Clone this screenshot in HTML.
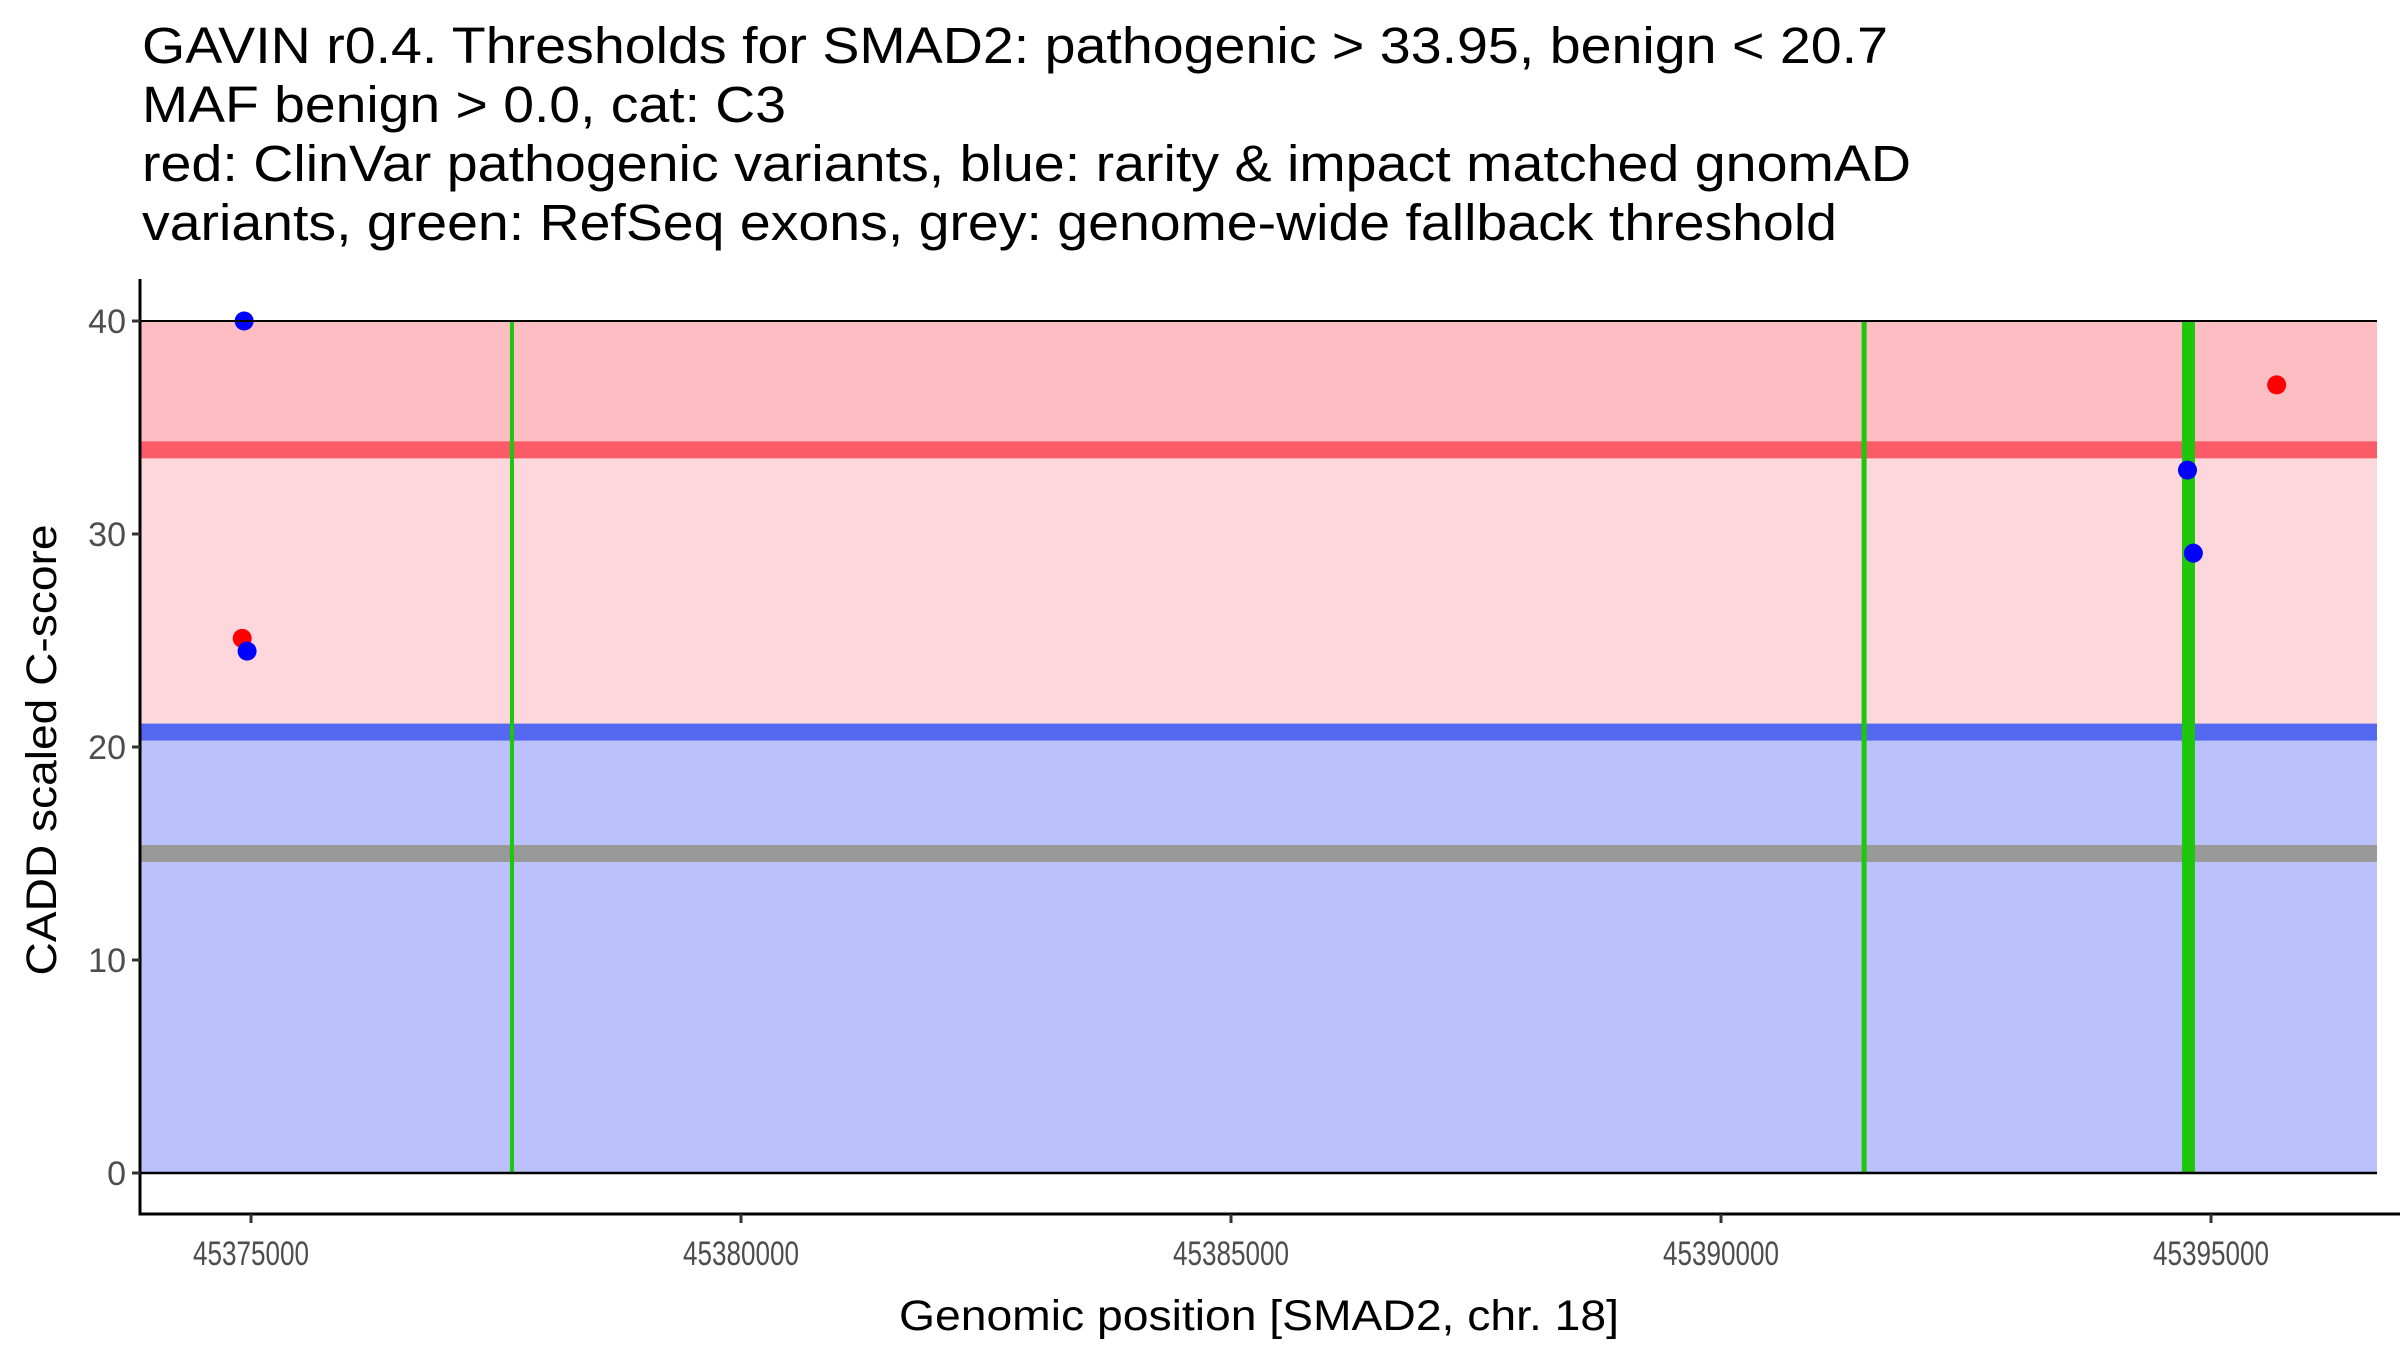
<!DOCTYPE html>
<html><head><meta charset="utf-8"><style>
html,body{margin:0;padding:0;background:#fff;}
svg{display:block;font-family:"Liberation Sans",Arial,sans-serif;}
</style></head><body>
<svg id="chart" width="2400" height="1350" viewBox="0 0 2400 1350" xmlns="http://www.w3.org/2000/svg">
<g font-size="51" fill="#000">
<text x="142" y="63" textLength="1746" lengthAdjust="spacingAndGlyphs">GAVIN r0.4. Thresholds for SMAD2: pathogenic &gt; 33.95, benign &lt; 20.7</text>
<text x="142" y="122" textLength="644" lengthAdjust="spacingAndGlyphs">MAF benign &gt; 0.0, cat: C3</text>
<text x="142" y="181" textLength="1769" lengthAdjust="spacingAndGlyphs">red: ClinVar pathogenic variants, blue: rarity &amp; impact matched gnomAD</text>
<text x="142" y="240" textLength="1695" lengthAdjust="spacingAndGlyphs">variants, green: RefSeq exons, grey: genome-wide fallback threshold</text>
</g>
<g id="bands"></g>
<g id="exons"></g>
<g id="points"></g>
<g id="axes"></g>
<text x="1259" y="1330" font-size="43" text-anchor="middle" textLength="720" lengthAdjust="spacingAndGlyphs">Genomic position [SMAD2, chr. 18]</text>
<text transform="translate(56,750) rotate(-90)" font-size="43" text-anchor="middle" textLength="451" lengthAdjust="spacingAndGlyphs">CADD scaled C-score</text>
</svg>
<script>
const pathogenicThreshold = 33.95;
const benignThreshold = 20.7;
const fallbackThreshold = 15;
const exonPositions = [45377663, 45391460, 45394770];
const exonWidths = [4, 5, 13];
const pathogenicX = [45374910, 45395670];
const pathogenicY = [25.1, 37.0];
const benignX = [45374930, 45374960, 45394760, 45394820];
const benignY = [40.0, 24.5, 33.0, 29.1];
const xTicks = [45375000, 45380000, 45385000, 45390000, 45395000];
const yTicks = [0, 10, 20, 30, 40];

const NS = "http://www.w3.org/2000/svg";
const L = 140, R = 2377, AX = 1214, TOP = 279;
function sx(v){ return 251 + (v - 45375000) * 0.098; }
function sy(v){ return 1173 - v * 21.3; }
function mk(tag, attrs, parent){ const e = document.createElementNS(NS, tag); for (const k in attrs) e.setAttribute(k, attrs[k]); parent.appendChild(e); return e; }

const bands = document.getElementById('bands');
let r;
r = mk('rect', {x:L, y:sy(40), width:R-L, height:sy(pathogenicThreshold)-sy(40), fill:'#fdbdc2'}, bands);


r = mk('rect', {x:L, y:sy(pathogenicThreshold), width:R-L, height:sy(benignThreshold)-sy(pathogenicThreshold), fill:'#fdd7dc'}, bands);


r = mk('rect', {x:L, y:sy(benignThreshold), width:R-L, height:sy(0)-sy(benignThreshold), fill:'#bbc1fa'}, bands);


r = mk('rect', {x:L, y:sy(pathogenicThreshold)-8.5, width:R-L, height:17, fill:'#fb5a69'}, bands);


r = mk('rect', {x:L, y:sy(benignThreshold)-8.5, width:R-L, height:17, fill:'#5468f0'}, bands);


r = mk('rect', {x:L, y:sy(fallbackThreshold)-8.5, width:R-L, height:17, fill:'#999999'}, bands);



const exons = document.getElementById('exons');
exonPositions.forEach((p, i) => {
  const e = mk('rect', {x:sx(p)-exonWidths[i]/2, y:sy(40), width:exonWidths[i], height:sy(0)-sy(40), fill:'#1ec70b'}, exons);
  
  
});

const pts = document.getElementById('points');
pathogenicX.forEach((x, i) => {
  const c = mk('circle', {cx:sx(x), cy:sy(pathogenicY[i]), r:9.5, fill:'#ff0000'}, pts);
  
  
});
benignX.forEach((x, i) => {
  const c = mk('circle', {cx:sx(x), cy:sy(benignY[i]), r:9.5, fill:'#0000ff'}, pts);
  
  
});

const axes = document.getElementById('axes');
let ln;
ln = mk('line', {x1:L, x2:R, y1:sy(40), y2:sy(40), stroke:'#000', 'stroke-width':2}, axes);


ln = mk('line', {x1:L, x2:R, y1:sy(0), y2:sy(0), stroke:'#000', 'stroke-width':2.5}, axes);


ln = mk('line', {x1:L, x2:L, y1:TOP, y2:AX+1.5, stroke:'#000', 'stroke-width':3}, axes);


ln = mk('line', {x1:L-1.5, x2:R+23, y1:AX, y2:AX, stroke:'#000', 'stroke-width':3}, axes);


yTicks.forEach(v => {
  const t = mk('line', {x1:L-8, x2:L, y1:sy(v), y2:sy(v), stroke:'#333', 'stroke-width':3}, axes);
  
  
  const tx = mk('text', {x:L-14, y:sy(v)+12, 'font-size':34, fill:'#4d4d4d', 'text-anchor':'end'}, axes);
  tx.textContent = v;
  
  
});
xTicks.forEach(v => {
  const t = mk('line', {x1:sx(v), x2:sx(v), y1:AX, y2:AX+9, stroke:'#333', 'stroke-width':3}, axes);
  
  
  const tx = mk('text', {x:sx(v), y:AX+51, 'font-size':34, fill:'#4d4d4d', 'text-anchor':'middle', textLength:116, lengthAdjust:'spacingAndGlyphs'}, axes);
  tx.textContent = v;
  
  
});
</script>
</body></html>
